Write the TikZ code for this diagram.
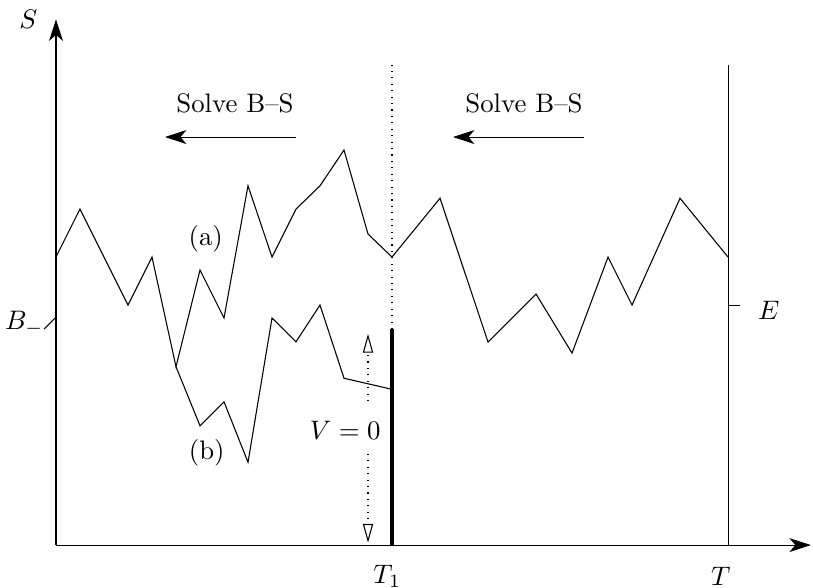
\documentclass[tikz,border=0pt]{standalone}
\usepackage{amsmath, amssymb}
\usepackage{xcolor}
\usepackage{tikz}
\usetikzlibrary{arrows.meta, positioning}

\begin{document}
\begin{tikzpicture}[x=0.315cm, y=0.315cm,
    axisarrow/.style={-{Stealth[length=8pt, width=5.2pt, inset=2.2pt]}},
    zeroarrow/.style={dotted, -{Triangle[open, length=7pt, width=3.8pt]}},
    bound/.style={line width=1.2pt},
  ]
  \useasboundingbox (-2.333,-1.75) rectangle (31.54,22.71);
  % axes
  \coordinate (origin) at (0,0);
  \coordinate (stop) at (0,21.9);
  \coordinate (tend) at (31.45,0);
  \draw[axisarrow] (origin) -- (stop);
  \draw[axisarrow] (origin) -- (tend);
  \node (slabel) at (-1.15,21.9) {$S$};
  \node (tone) at (13.8,-1.3) {$T_1$};
  \node (texp) at (27.7,-1.3) {$T$};
  % expiry line and strike
  \coordinate (tbot) at (28,0);
  \coordinate (ttop) at (28,20);
  \coordinate (estrike) at (28,10);
  \coordinate (etick) at (28.5,10);
  \draw (tbot) -- (ttop);
  \draw (estrike) -- (etick);
  \node (elabel) at (29.7,9.8) {$E$};
  % barrier
  \coordinate (bstart) at (-0.5,9);
  \coordinate (bend) at (0,9.5);
  \draw (bstart) -- (bend);
  \node[anchor=base east, inner sep=0pt] (blabel) at (bstart) {$B_-$};
  % T1: V=0 below, dotted above
  \coordinate (tonebot) at (14,0);
  \coordinate (tonemid) at (14,9);
  \coordinate (tonetop) at (14,20);
  \draw[bound] (tonebot) -- (tonemid);
  \draw[dotted] (tonemid) -- (tonetop);
  \node (vzero) at (12.05,4.8) {$V=0$};
  \coordinate (vgapu) at (13,6);
  \coordinate (vgapd) at (13,3.8);
  \coordinate (vtop) at (13,8.8);
  \coordinate (vbot) at (13,0.1);
  \draw[zeroarrow] (vgapu) -- (vtop);
  \draw[zeroarrow] (vgapd) -- (vbot);
  % solve backwards in time
  \node (solveleft) at (7.46,18.42) {Solve B--S};
  \node (solveright) at (19.5,18.42) {Solve B--S};
  \coordinate (laheadtail) at (10,17);
  \coordinate (laheadtip) at (4.54,17);
  \coordinate (raheadtail) at (22,17);
  \coordinate (raheadtip) at (16.54,17);
  \draw[axisarrow] (laheadtail) -- (laheadtip);
  \draw[axisarrow] (raheadtail) -- (raheadtip);
  % sample paths
  \draw (0,12) -- (1,14) -- (3,10) -- (4,12) -- (5,7.43) -- (6,11.46)
    -- (7,9.46) -- (8,14.97) -- (9,12) -- (10,14) -- (11,14.97)
    -- (12,16.46) -- (13,12.96) -- (14,12) -- (16,14.45) -- (18,8.46)
    -- (20,10.46) -- (21.5,8) -- (23,12) -- (24,10) -- (26,14.45) -- (28,12);
  \draw (5,7.43) -- (6,4.97) -- (7,5.97) -- (8,3.45) -- (9,9.46)
    -- (10,8.47) -- (11,10) -- (12,6.95) -- (14,6.49);
  \node (pathalabel) at (6.24,12.75) {(a)};
  \node (pathblabel) at (6.28,3.86) {(b)};
\end{tikzpicture}
\end{document}
